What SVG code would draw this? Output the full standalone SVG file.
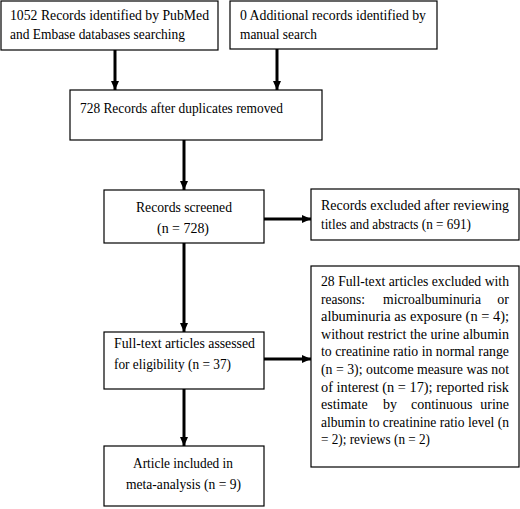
<svg xmlns="http://www.w3.org/2000/svg" width="520" height="509" viewBox="0 0 520 509" font-family="'Liberation Serif', 'Times New Roman', serif" font-size="14">
<style>
.box{fill:#fff;stroke:#000;stroke-width:1.2}
text{font-family:'Liberation Serif','Times New Roman',serif;font-size:14px;fill:#000}
.c{text-anchor:middle}
.e{text-anchor:end}
.arr{stroke:#000;stroke-width:3;fill:none;marker-end:url(#ah)}
</style>
<defs>
<marker id="ah" markerUnits="userSpaceOnUse" markerWidth="10" markerHeight="10" viewBox="0 0 10 10" refX="9" refY="5" orient="auto">
<path d="M0,1 L9,5 L0,9 Z" fill="#000"/>
</marker>
</defs>
<rect width="520" height="509" fill="#fff"/>
<g id="connectors">
<line class="arr" x1="115" y1="50" x2="115" y2="90"/>
<line class="arr" x1="277" y1="49" x2="277" y2="90"/>
<line class="arr" x1="184" y1="140" x2="184" y2="190"/>
<line class="arr" x1="264" y1="219" x2="311" y2="219"/>
<line class="arr" x1="184" y1="243" x2="184" y2="332"/>
<line class="arr" x1="264" y1="359" x2="311" y2="359"/>
<line class="arr" x1="184" y1="389" x2="184" y2="446"/>
</g>
<g id="n1">
<rect class="box" x="1" y="1" width="217" height="49"/>
<text x="10" y="20" textLength="199" lengthAdjust="spacingAndGlyphs">1052 Records identified by PubMed</text>
<text x="10" y="39" textLength="175" lengthAdjust="spacingAndGlyphs">and Embase databases searching</text>
</g>
<g id="n2">
<rect class="box" x="230" y="1" width="207" height="48"/>
<text x="240" y="20" textLength="186" lengthAdjust="spacingAndGlyphs">0 Additional records identified by</text>
<text x="240" y="39" textLength="77" lengthAdjust="spacingAndGlyphs">manual search</text>
</g>
<g id="n3">
<rect class="box" x="70" y="90" width="252" height="50"/>
<text x="80" y="113" textLength="203" lengthAdjust="spacingAndGlyphs">728 Records after duplicates removed</text>
</g>
<g id="n4">
<rect class="box" x="104" y="190" width="160" height="53"/>
<text x="136" y="212" textLength="96" lengthAdjust="spacingAndGlyphs">Records screened</text>
<text x="157" y="233" textLength="52" lengthAdjust="spacingAndGlyphs">(n = 728)</text>
</g>
<g id="n5">
<rect class="box" x="311" y="189" width="208" height="51"/>
<text x="321" y="210" textLength="188" lengthAdjust="spacingAndGlyphs">Records excluded after reviewing</text>
<text x="321" y="229" textLength="150" lengthAdjust="spacingAndGlyphs">titles and abstracts (n = 691)</text>
</g>
<g id="n6">
<rect class="box" x="311" y="266" width="208" height="201"/>
<text x="321" y="286" textLength="188" lengthAdjust="spacingAndGlyphs">28 Full-text articles excluded with</text>
<text x="321" y="303.6" textLength="44" lengthAdjust="spacingAndGlyphs">reasons:</text>
<text x="383" y="303.6" textLength="98" lengthAdjust="spacingAndGlyphs">microalbuminuria</text>
<text class="e" x="509" y="303.6">or</text>
<text x="321" y="321.2" textLength="188" lengthAdjust="spacingAndGlyphs">albuminuria as exposure (n = 4);</text>
<text x="321" y="338.8" textLength="188" lengthAdjust="spacingAndGlyphs">without restrict the urine albumin</text>
<text x="321" y="356.4" textLength="188" lengthAdjust="spacingAndGlyphs">to creatinine ratio in normal range</text>
<text x="321" y="374" textLength="188" lengthAdjust="spacingAndGlyphs">(n = 3); outcome measure was not</text>
<text x="321" y="391.6" textLength="188" lengthAdjust="spacingAndGlyphs">of interest (n = 17); reported risk</text>
<text x="321" y="409.2">estimate</text>
<text x="383" y="409.2">by</text>
<text x="411" y="409.2">continuous</text>
<text class="e" x="509" y="409.2">urine</text>
<text x="321" y="426.8" textLength="188" lengthAdjust="spacingAndGlyphs">albumin to creatinine ratio level (n</text>
<text x="321" y="444.4" textLength="109" lengthAdjust="spacingAndGlyphs">= 2); reviews (n = 2)</text>
</g>
<g id="n7">
<rect class="box" x="104" y="332" width="160" height="57"/>
<text x="114" y="348" textLength="141" lengthAdjust="spacingAndGlyphs">Full-text articles assessed</text>
<text x="114" y="369" textLength="117" lengthAdjust="spacingAndGlyphs">for eligibility (n = 37)</text>
</g>
<g id="n8">
<rect class="box" x="104" y="446" width="160" height="60"/>
<text x="133" y="468" textLength="100" lengthAdjust="spacingAndGlyphs">Article included in</text>
<text x="126" y="489" textLength="115" lengthAdjust="spacingAndGlyphs">meta-analysis (n = 9)</text>
</g>
</svg>
